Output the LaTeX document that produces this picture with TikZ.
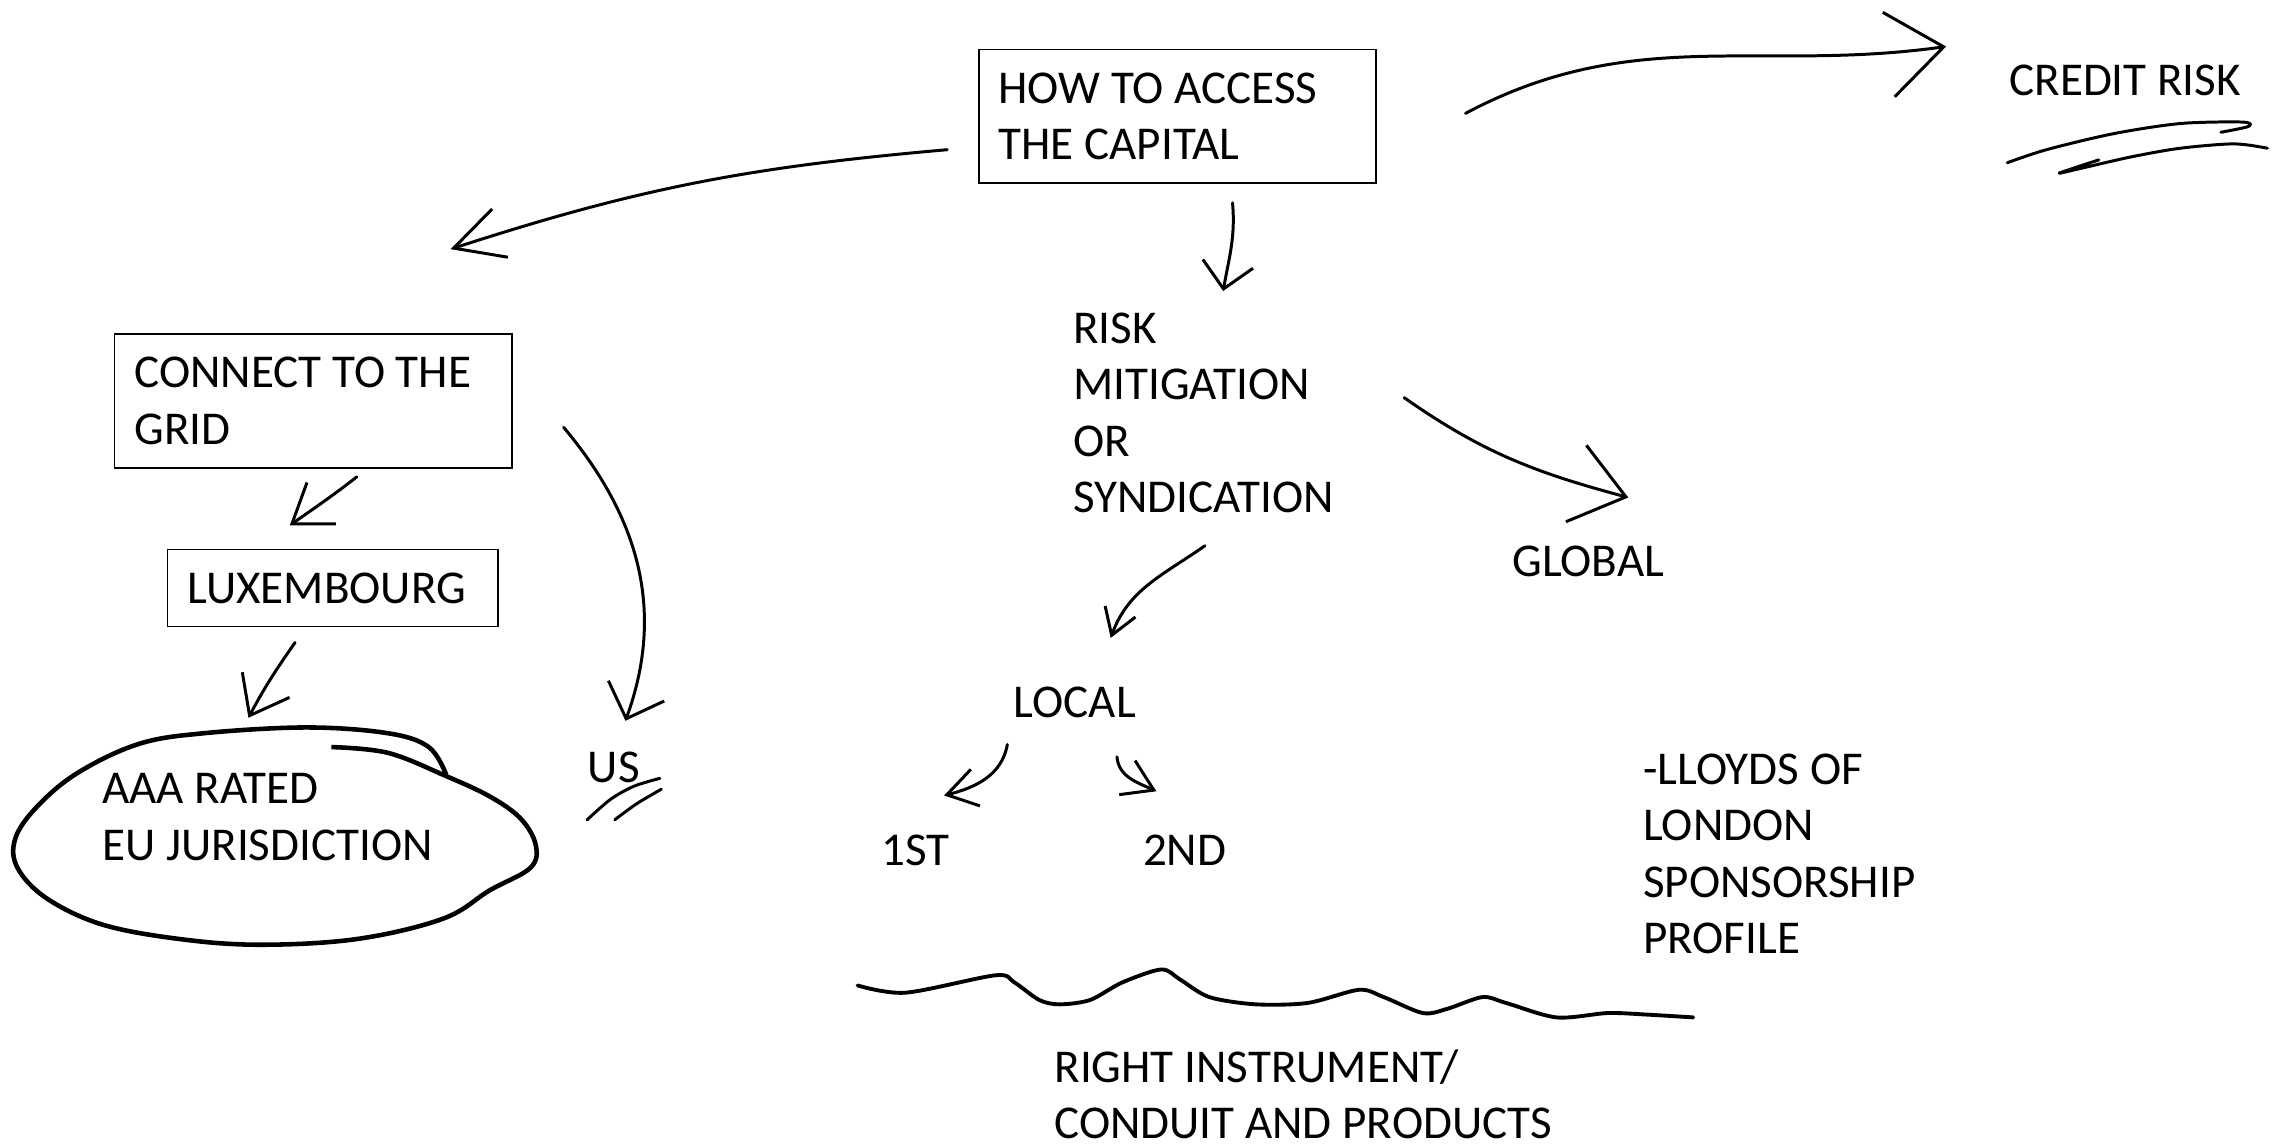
\documentclass[tikz,border=0pt]{standalone}
\usepackage{fontspec}
\setmainfont{Carlito}
\usetikzlibrary{arrows.meta}

\begin{document}
\begin{tikzpicture}[
        x=0.014534cm, y=0.014534cm,
        font=\fontsize{13.4}{16.1}\selectfont,
        box/.style={
            draw,
            line width=0.5pt,
            align=flush left,
            inner xsep=0.2cm,
            inner ysep=0pt
        },
        txt/.style={
            align=left,
            inner sep=0pt,
            anchor=west
        },
        pen/.style={
            line width=0.85pt,
            line cap=round,
            line join=round,
            -{Straight Barb[angle=#1]}
        },
        pen/.default={70:4mm},
        scribble/.style={
            line width=0.85pt,
            line cap=round,
            line join=round
        },
        blob/.style={
            line width=1.3pt,
            line join=round
        },
        wave/.style={
            line width=1.1pt,
            line cap=round,
            line join=round
        }
    ]

    \useasboundingbox (0,0) rectangle (1568,-789);

    % Top: the question
    \node[box, text width=3.575cm, minimum height=1.337cm] (cap) at (810,-80) {HOW TO ACCESS\\THE CAPITAL};
    \node[txt] (credit) at (1382,-55) {CREDIT RISK};

    % Left branch
    \node[box, text width=3.575cm, minimum height=1.337cm] (grid) at (215.5,-276) {CONNECT TO THE\\GRID};
    \node[box, text width=2.907cm, minimum height=0.77cm] (lux) at (229,-404.5) {LUXEMBOURG};
    \node[txt] (aaa) at (70,-562) {AAA RATED\\EU JURISDICTION};
    \node[txt] (us) at (404,-528) {US};

    % Middle branch
    \node[txt] (risk) at (738,-284) {RISK\\MITIGATION\\OR\\SYNDICATION};
    \node[txt] (global) at (1040,-386) {GLOBAL};
    \node[txt] (local) at (697,-483) {LOCAL};
    \node[txt] (first) at (606,-585) {1ST};
    \node[txt] (second) at (786,-585) {2ND};

    % Notes
    \node[txt] (lloyds) at (1130,-587.5) {-LLOYDS OF\\LONDON\\SPONSORSHIP\\PROFILE};
    \node[txt] (instr) at (725,-753) {RIGHT INSTRUMENT/\\CONDUIT AND PRODUCTS};

    % Arrows
    \draw[pen={55:5.5mm}] ([shift={(-21,-23)}]cap.west) to[out=185, in=18] ([shift={(94.5,58)}]grid.north);
    \draw[pen={90:3.6mm}] ([shift={(38,-13)}]cap.south) to[out=-85, in=80] ([shift={(13.5,14.3)}]risk.north);
    \draw[pen={75:7mm}] ([shift={(61,2)}]cap.east) to[out=28, in=188] ([shift={(-43,23)}]credit.west);
    \draw[pen={70:4.4mm}] ([shift={(30,-5.5)}]grid.south) to[out=218, in=35] ([shift={(-29.6,16)}]lux.north);
    \draw[pen={75:4.4mm}] ([shift={(-26,-10.5)}]lux.south) to[out=235, in=62] ([shift={(-13.3,37.7)}]aaa.north);
    \draw[pen={90:4.2mm}] ([shift={(35,-18)}]grid.east) to[out=-50, in=70] ([shift={(8,21)}]us.north);
    \draw[pen={75:6.5mm}] ([shift={(48,10.4)}]risk.east) to[out=-35, in=165] ([shift={(27.6,32.6)}]global.north);
    \draw[pen={65:3mm}] ([shift={(1,-22)}]risk.south) to[out=215, in=70] ([shift={(24.7,33)}]local.north);
    \draw[pen={65:3.5mm}] ([shift={(-46.4,-18.1)}]local.south) to[out=-100, in=14] ([shift={(19.6,26.6)}]first.north);
    \draw[pen={65:3.5mm}] ([shift={(29,-26.6)}]local.south) to[out=-85, in=155] ([shift={(-19.5,29.6)}]second.north);

    % Ring round AAA RATED
    \draw[blob] plot[smooth, tension=0.6] coordinates {
        (228,-514) (267,-518) (307,-534) (337,-548) (358,-563) (368.5,-581)
        (365,-597) (337,-612.5) (305,-632) (246,-646) (179,-650) (123,-646)
        (70,-636) (32,-618) (12,-597) (10.5,-577) (25,-555.5) (53,-532)
        (95,-512) (140,-504.5) (211,-500.5) (267,-504.5) (295,-514) (307,-533)};

    % Underlines
    \draw[scribble] plot[smooth, tension=0.5] coordinates {
        (1381,-112) (1408,-103) (1454,-92) (1500,-85) (1543,-84) (1547,-87) (1528,-91)};
    \draw[scribble] plot[smooth, tension=0.5] coordinates {
        (1444,-110) (1417,-119) (1431,-116) (1466,-108) (1500,-102) (1537,-99) (1560,-102)};
    \draw[scribble] plot[smooth] coordinates {(404,-564) (420,-550) (436,-541) (454,-535.5)};
    \draw[scribble] plot[smooth] coordinates {(423,-564) (438,-553) (455,-543)};

    % Wavy line
    \draw[wave] plot[smooth, tension=0.5] coordinates {
        (590,-678) (623,-683) (685,-671) (698,-676) (715,-688) (729,-691)
        (750,-688) (772,-676) (799,-667) (812,-674) (832,-686) (864,-691)
        (900,-690) (935,-681) (952,-686) (979,-697) (996,-694) (1020,-686)
        (1036,-690) (1071,-700) (1106,-697) (1132,-698) (1165,-700)};

\end{tikzpicture}
\end{document}
